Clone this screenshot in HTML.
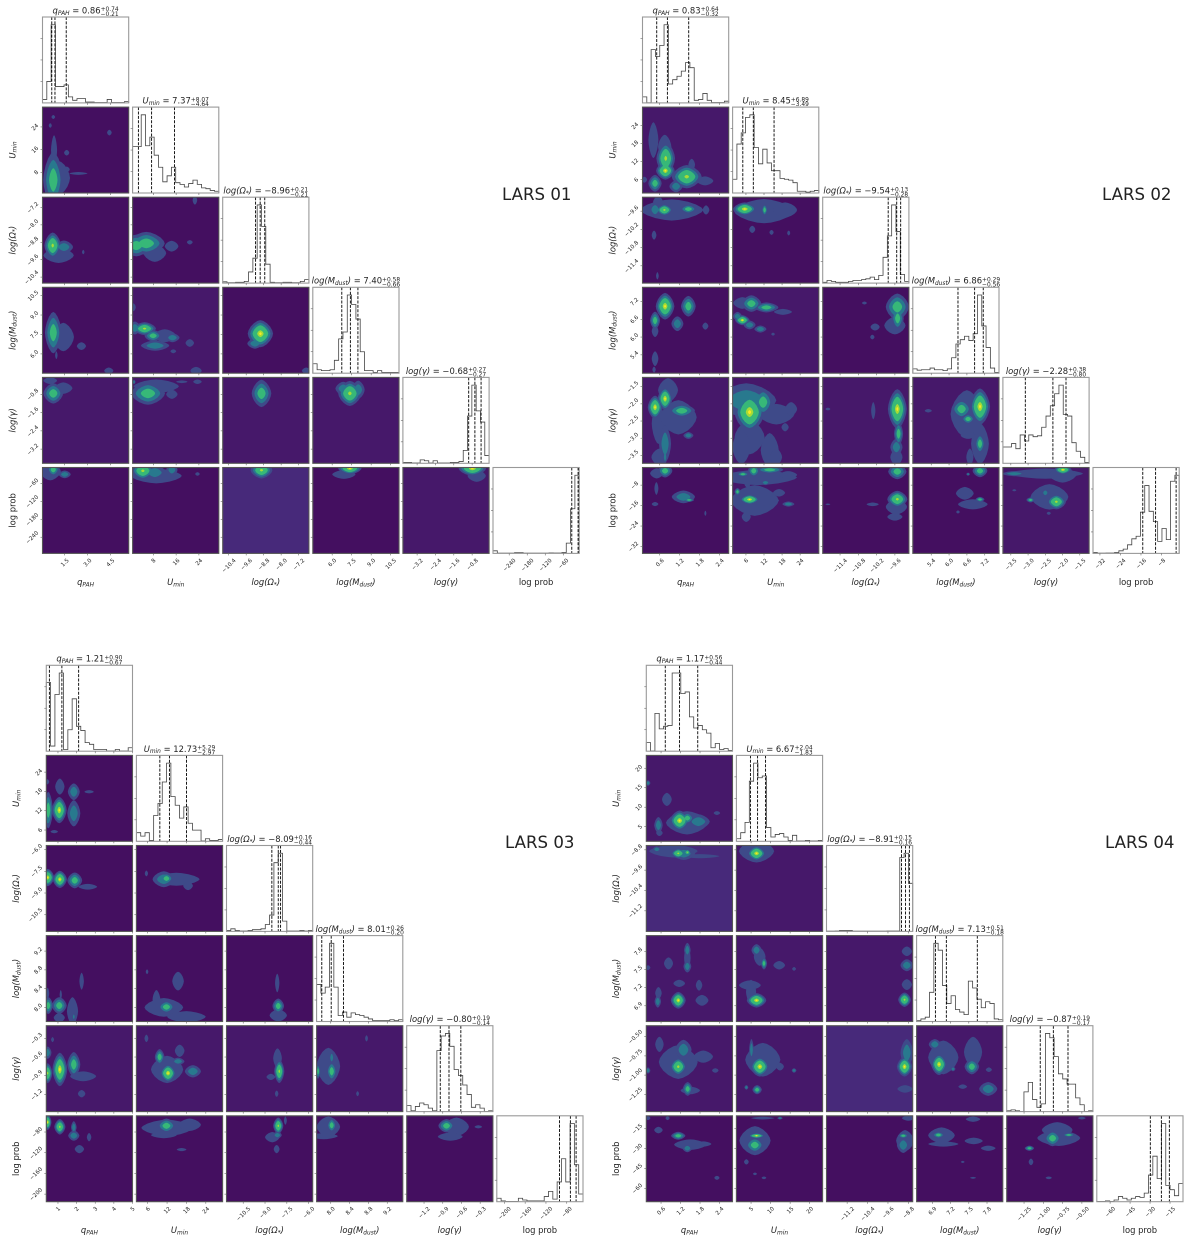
<!DOCTYPE html>
<html lang="en">
<head>
<meta charset="utf-8">
<title>LARS corner plots</title>
<style>
html,body{margin:0;padding:0;background:#fff;}
svg text{font-family:"DejaVu Sans","Liberation Sans",sans-serif;fill:#222;}
#figure{filter:blur(0.35px);}
</style>
</head>
<body>
<svg id="figure" xmlns="http://www.w3.org/2000/svg" width="1200" height="1245" viewBox="0 0 1200 1245" style="display:block"></svg>
<script>
// Parameter order: qPAH, Umin, log(Omega*), log(Mdust), log(gamma), log prob
// Contour blob format: [x, y, rx, ry, peakLevel], in data units of that panel
// Contour panel order (row,col): 1,0 2,0 2,1 3,0 3,1 3,2 4,0 4,1 4,2 4,3 5,0 5,1 5,2 5,3 5,4

const lars01Ranges = [[0.04,5.71],[0.69,31],[-10.675,-6.73],[4.51,11.14],[-3.82,-0.06],[-294,-7]];
const lars01Ticks = [["1.5","3.0","4.5"],["8","16","24"],["-10.4","-9.6","-8.8","-8.0","-7.2"],["6.0","7.5","9.0","10.5"],["-3.2","-2.4","-1.6","-0.8"],["-240","-180","-120","-60"]];
const lars01Median = [0.86,7.37,-8.96,7.40,-0.68,-10.7];
const lars01ErrUp = [0.74,8.07,0.21,0.58,0.27,3.4];
const lars01ErrDown = [0.21,4.64,0.21,0.66,0.27,21];
const lars01Hist = [
 [4,25,91,19,19,21,7,3,5,5,1,1,.5,.5,.5,4,.5,.5,.5,1.5],
 [54,54,91,55,65,44,30,13,20,30,12,10,7,11,15,10,6,5,3,2],
 [1.5,.5,.5,1,1,2,13,29,91,66,22,1,.5,.5,1,1,.5,.5,2,4],
 [11,4,3,3,4,15,40,48,91,80,63,25,3,3,1,3,1,1,1,1],
 [1,1,.5,.5,4,3,.5,3,.5,.5,.5,1,1,2,15,55,91,61,48,9],
 [3,.3,.3,.3,.3,.8,.8,.3,.3,.3,.3,.3,.3,.6,.5,.5,1,12,52,91]
];
const lars01Background = [0,0,0,0,1,0,1,1,1,1,0,0,2,0,1];
const lars01Contours = [
 [[.75,5.3,.66,9.9,3],[.8,15.8,.2,5.3,1],[1.63,14.9,.17,1,1],[1.63,9,.2,1,1],[2.4,7.6,.6,.5,1],[4.44,22,.15,1,1],[.75,27.5,.12,.7,1],[.55,24.5,.1,.8,1],[1.1,6,.75,6,1]],
 [[.71,-8.95,.55,.6,4],[1.45,-9.02,.6,.3,2],[1.1,-9.4,1,.35,1],[2.72,-9.25,.08,.1,1]],
 [[5.5,-8.85,6.5,.53,3],[2,-8.95,5,.5,3],[14.4,-8.98,2.4,.25,1],[20.8,-8.8,1,.1,1],[22.6,-6.87,.8,.2,1],[8.5,-9.3,4,.4,1]],
 [[.75,7.64,.55,1.6,3],[1.41,7.3,.7,1.1,1],[2.6,6.6,.3,.3,1],[.95,5.9,.08,.3,1],[4.4,4.7,.3,.25,1]],
 [[4.9,7.95,4,.5,4],[1.5,8,2,.5,2],[7.9,7.4,3,.45,3],[8.6,6.64,5,.4,2],[14.7,7.25,2.5,.35,2],[1,9.6,.8,.3,1],[20.8,6.84,1.5,.3,1],[15,6.2,1,.15,1],[23,4.7,2,.3,1],[12,7.4,4,.5,1]],
 [[-8.95,7.56,.58,1.05,5],[-9.2,6.8,.35,.4,2],[-6.85,4.7,.2,.25,1]],
 [[.75,-.76,.65,.45,3],[1.41,-.53,.6,.25,1],[.55,-.2,.45,.15,1]],
 [[6.1,-.76,6,.5,3],[1.2,-.26,.5,.1,2],[9,-.45,8,.3,1],[14.5,-.8,2,.2,1],[23.5,-.25,1.5,.1,1],[18,-.25,2,.06,1]],
 [[-8.9,-.76,.45,.6,3]],
 [[7.36,-.76,.9,.55,4],[6.85,-.55,.6,.3,2],[8,-.6,.5,.4,2]],
 [[.75,-14,.4,22,3],[1.5,-30,.4,13,2],[.55,-20,.7,30,1]],
 [[4.3,-18,4,30,4],[8.5,-24,4,25,2],[14.5,-15,2,20,2],[9,-35,9,25,1],[23.5,-28.7,.8,6,1]],
 [[-8.9,-16,.5,28,4]],
 [[7.36,-10,.9,20,5],[6.9,-30,.9,15,1]],
 [[-.79,-10,.6,25,5],[-.6,-35,.4,20,1]]
];

const lars02Ranges = [[0.083,2.67],[1.57,30.2],[-11.97,-9.14],[4.78,7.68],[-3.73,-1.23],[-34.7,-1.1]];
const lars02Ticks = [["0.6","1.2","1.8","2.4"],["6","12","18","24"],["-11.4","-10.8","-10.2","-9.6"],["5.4","6.0","6.6","7.2"],["-3.5","-3.0","-2.5","-2.0","-1.5"],["-32","-24","-16","-8"]];
const lars02Median = [0.83,8.45,-9.54,6.86,-2.28,-10.3];
const lars02ErrUp = [0.64,6.89,0.13,0.29,0.38,8];
const lars02ErrDown = [0.32,3.49,0.28,0.56,0.80,5];
const lars02Hist = [
 [7,.2,62,54,67,91,22,27,31,37,47,41,3,4,11,3,.5,.5,.5,2],
 [16,57,70,88,91,53,34,51,35,26,26,17,16,15,12,2,2,1,2,3],
 [1,3,2,1,1,1,2,3,3,4,5,7,4,9,30,55,91,60,10,2],
 [5,3.5,4,4,6,4,4,3,5,18,34,39,43,38,46,91,55,30,6,1],
 [19,19,23,17,33,26,33,31,32,42,55,67,81,91,57,55,24,14,7,1],
 [1,.3,.3,.5,.5,1,3,5,10,17,20,48,79,49,37,14,29,16,84,91]
];
const lars02Background = [1,0,0,0,1,0,1,1,1,1,0,1,0,0,1];
const lars02Contours = [
 [[.78,13.1,.28,5.5,4],[.77,9,.28,3,5],[.458,4.8,.2,2.8,3],[1.41,7,.45,3.9,4],[1.09,3.8,.2,2,2],[.41,19.2,.15,6,1],[1.96,5.6,.25,1.5,1],[.14,6,.08,1,1],[1.56,11,.1,2,1],[.75,17,.2,4,1]],
 [[.74,-9.56,.25,.2,4],[1.46,-9.53,.25,.15,3],[.96,-9.56,.95,.35,1],[.46,-9.55,.18,.25,2],[.55,-9.3,.15,.2,1],[1.99,-9.56,.1,.15,1],[.43,-10.39,.07,.15,1],[.53,-11.73,.04,.12,1]],
 [[5.6,-9.53,3.9,.22,5],[12.2,-9.56,1,.2,3],[12,-9.6,10,.4,1],[19,-9.56,4,.25,1],[8.1,-10.2,1,.12,1],[14.5,-10.3,.7,.08,1],[20.2,-10.32,.5,.08,1]],
 [[.76,7.04,.28,.45,5],[1.46,7.04,.22,.35,3],[.46,6.56,.15,.3,3],[1.13,6.45,.18,.25,2],[.46,6.2,.1,.2,1],[1.97,6.37,.09,.12,1],[.46,5.27,.1,.25,1],[.43,4.9,.05,.1,1]],
 [[7.8,7.13,3.3,.28,3],[4.8,7.15,3,.2,1],[12.8,7,4,.17,3],[4.8,6.57,2.4,.17,5],[3.2,6.7,1.5,.15,2],[7.2,6.41,2,.15,2],[10.8,6.27,2,.12,2],[18.3,6.85,3,.1,1],[15,6.1,.6,.05,1]],
 [[-9.52,7.02,.38,.45,3],[-9.51,6.63,.2,.4,3],[-9.6,6.39,.35,.3,1],[-10.25,6.34,.15,.12,1],[-10.34,6,.07,.08,1],[-10.6,7.15,.08,.05,1]],
 [[.76,-1.85,.22,.34,5],[.46,-2.1,.22,.34,5],[.56,-2.57,.2,.6,1],[1.26,-2.2,.4,.2,3],[1.16,-2.39,.55,.5,1],[.76,-3.16,.18,.55,2],[.6,-3.55,.25,.25,1],[1.46,-2.92,.15,.1,2],[.76,-3.55,.06,.2,2],[.85,-1.6,.3,.35,1]],
 [[7.2,-2.24,5,.58,5],[11.7,-1.95,3.3,.4,3],[6.1,-1.9,10,.5,2],[16.1,-2.3,6,.3,1],[21,-2.15,2,.2,1],[19,-2.68,1.2,.12,1],[7.2,-2.97,5,.5,1],[4.5,-3.26,3,.5,1],[13.9,-3.35,3,.5,1],[16,-3.55,2,.25,1]],
 [[-9.52,-2.15,.31,.58,5],[-9.48,-2.87,.15,.35,3],[-9.55,-3.26,.2,.25,2],[-9.55,-3.55,.2,.25,1],[-10.31,-2.2,.07,.25,1],[-11.8,-2.15,.08,.04,1]],
 [[7.04,-2.08,.34,.53,5],[6.42,-2.15,.34,.29,3],[6.64,-2.44,.22,.15,3],[6.6,-2.3,.55,.7,1],[7.04,-3.16,.17,.3,3],[7.04,-3.16,.3,.6,1],[6.7,-3.55,.12,.25,1],[6.64,-2.92,.25,.1,1],[5.3,-2.2,.12,.05,1]],
 [[.76,-2.4,.22,2.6,3],[.51,-3.4,.2,2,1],[.5,-9.3,.06,2.5,1],[1.31,-12.6,.35,2.5,2],[1.48,-13.8,.15,.8,3],[.46,-15.4,.1,.8,1],[1.97,-19,.03,1,1]],
 [[7.2,-13.6,3.3,2,5],[8.9,-14,8,6,1],[5,-3.7,2,1,3],[8.6,-2.4,2,2.5,3],[13.9,-2,4.5,1.5,3],[10,-5,13,3,1],[20,-4,3,1.5,1],[3.2,-10.6,1,1.5,3],[12.5,-7,1.5,1,2],[6.5,-7.5,1,1.5,1],[20.1,-15.4,2,1,2],[17,-11,2,1.5,1],[6.1,-20.4,1.5,2,1],[12,-14,5,2,1]],
 [[-9.52,-2.7,.3,3,3],[-9.52,-13.5,.33,3.3,4],[-9.55,-16.5,.35,3,1],[-9.6,-20.4,.25,1.5,1],[-10.33,-15.5,.2,.7,1],[-11.8,-15.5,.08,.3,1]],
 [[7.04,-2.4,.25,2.5,3],[6.64,-3.7,.06,.6,2],[7.04,-13.6,.15,1,3],[6.53,-11.2,.3,2.5,1],[6.8,-15.5,.5,2,1],[6.3,-18.5,.06,.6,1]],
 [[-2.18,-14.5,.28,3,4],[-1.99,-2,.25,1.8,5],[-2.38,-12.6,.55,5,1],[-2.93,-13.8,.12,1,3],[-2.5,-11,.1,1.5,2],[-2.5,-3.5,1.1,2,1],[-3.4,-3.5,.35,1,2],[-2,-4,.4,3,1],[-3.4,-10,.06,.4,1],[-2.4,-19,.06,.6,1]]
];

const lars03Ranges = [[0.374,5.0],[2.5,29.2],[-11.65,-5.72],[7.70,9.53],[-1.478,-0.096],[-214.6,-48.7]];
const lars03Ticks = [["1","2","3","4","5"],["6","12","18","24"],["-10.5","-9.0","-7.5","-6.0"],["8.0","8.4","8.8","9.2"],["-1.2","-0.9","-0.6","-0.3"],["-200","-160","-120","-80"]];
const lars03Median = [1.21,12.73,-8.09,8.01,-0.80,-73];
const lars03ErrUp = [0.90,5.29,0.16,0.26,0.19,11];
const lars03ErrDown = [0.67,2.97,0.44,0.20,0.14,21];
const lars03Hist = [
 [80,6,66,91,2,25,61,29,24,10,8,2,2,2,.3,.3,2,.3,.3,4],
 [10,6,10,1,30,44,69,91,52,42,27,40,21,13,13,.5,3,1,1,2],
 [1,3,1,.5,.5,1,2,2,3,8,19,80,91,12,.5,.5,.5,1,.5,1],
 [43,33,40,91,40,7,11,5,10,8,7,5,3,1,1,1,1,2,1,2],
 [7,1,6,10,8,4,1,71,88,91,76,49,42,31,20,5,8,4,.3,1],
 [4,1,.3,.3,.3,4,2,1,1,1,1,6,12,3,23,50,23,91,43,9]
];
const lars03Background = [0,0,0,0,0,0,1,1,1,1,0,0,0,0,0];
const lars03Contours = [
 [[1.07,12.2,.4,4.1,5],[.48,12.2,.25,5.7,3],[1.85,17.9,.32,2.6,2],[1.85,11.2,.35,4.1,2],[1.1,19.5,.25,2.5,1],[.43,21,.1,.8,1],[2.67,17.9,.25,.5,1],[.8,5.5,.2,.5,1],[.45,8.6,.08,.8,2]],
 [[.45,-7.93,.35,.6,5],[1.1,-8.06,.38,.6,5],[1.9,-8.13,.4,.55,3],[2.6,-8.57,.5,.2,1]],
 [[11.8,-8,2.1,.4,3],[14.9,-8.05,7.2,.45,1],[18.5,-8.5,1.5,.3,1],[5.6,-7.65,.5,.2,1],[11,-8.05,3.5,.55,2]],
 [[.48,8.04,.25,.18,3],[1.07,8.04,.4,.18,3],[1.07,7.78,.3,.1,1],[1.78,7.92,.3,.3,1],[1.85,7.8,.08,.08,2],[2.27,8.56,.12,.18,1],[.45,8.3,.08,.12,1],[1.15,8.27,.06,.1,1]],
 [[11.8,8.01,2.6,.14,3],[8.7,8.17,1.2,.2,1],[11,8,6,.2,1],[18,7.8,6,.12,1],[15.4,8.56,1.8,.2,1],[5.8,8.76,.4,.05,1]],
 [[-8.09,8.03,.4,.16,3],[-8.09,7.83,.6,.13,1],[-8.16,8.52,.15,.2,1]],
 [[1.1,-.8,.4,.27,5],[.45,-.86,.25,.16,4],[.45,-.53,.2,.1,2],[1.85,-.72,.35,.2,3],[2.35,-.91,.7,.08,1],[2.27,-1.19,.2,.06,1],[.71,-.32,.08,.04,1]],
 [[12.3,-.86,2.5,.15,5],[9.7,-.6,1.5,.13,3],[15.4,-.67,2,.06,2],[15.9,-.5,1.5,.1,1],[20,-.83,2.5,.1,2],[12,-.8,5,.22,1],[5.6,-.3,.6,.06,1]],
 [[-8.02,-.83,.35,.19,4],[-8.14,-.62,.3,.16,1],[-8.2,-1.19,.12,.05,1],[-8.6,-.92,.3,.05,1]],
 [[8.02,-.83,.11,.16,3],[8.02,-.61,.05,.1,2],[7.73,-.83,.05,.12,3],[7.95,-.75,.25,.3,1],[8.76,-.3,.03,.05,1],[8.57,-1.19,.03,.04,1]],
 [[.45,-61,.2,15,5],[1.1,-70,.3,15,4],[1.85,-71,.15,12,2],[1.85,-87,.3,10,2],[2.67,-90,.12,8,1],[2.15,-113,.25,8,1]],
 [[11.8,-68,2.9,14,3],[12,-72,8,16,1],[11,-86,4,6,1],[19,-66,3.5,12,1],[5.8,-70,.6,4,1],[16.5,-114,1.5,3,1]],
 [[-8.09,-68,.35,16,4],[-8.15,-86,.3,7,2],[-8.5,-90,.5,10,1],[-8.2,-113,.2,8,1],[-7.6,-58,.1,8,1]],
 [[8.02,-67,.1,14,3],[7.95,-70,.25,20,1],[7.85,-88,.3,6,1]],
 [[-.84,-68,.13,13,3],[-.68,-70,.2,18,1],[-.78,-89,.2,8,1],[-.33,-70,.06,3,1]]
];

const lars04Ranges = [[0.146,2.80],[1.25,23.3],[-12.01,-8.63],[6.64,8.06],[-1.475,-0.357],[-70,-5.25]];
const lars04Ticks = [["0.6","1.2","1.8","2.4"],["5","10","15","20"],["-11.2","-10.4","-9.6","-8.8"],["6.9","7.2","7.5","7.8"],["-1.25","-1.00","-0.75","-0.50"],["-60","-45","-30","-15"]];
const lars04Median = [1.17,6.67,-8.91,7.13,-0.87,-21.5];
const lars04ErrUp = [0.56,2.04,0.15,0.51,0.19,6];
const lars04ErrDown = [0.44,1.83,0.16,0.18,0.17,8.3];
const lars04Hist = [
 [10,.3,44,26,29,30,91,91,67,69,40,27,30,25,21,4,9,2,3,1],
 [3,10,22,70,91,74,76,16,5,8,9,5,1,7,.5,.5,1,.5,.5,1],
 [.3,.3,.5,1,1,1,.3,.3,.3,.3,.3,.3,.3,.3,.5,.5,.5,86,91,56],
 [1,3,5,34,91,83,42,21,30,14,11,8,47,39,26,16,23,21,3,2],
 [1,2,1,.3,23,34,14,5,9,91,86,64,44,38,32,32,16,8,.3,1],
 [.3,.3,1,.3,2,6,4,2,4,6,5,10,31,53,27,91,19,14,7,21]
];
const lars04Background = [1,2,1,1,1,1,1,1,2,1,0,0,0,0,0];
const lars04Contours = [
 [[1.17,6.55,.3,2.6,5],[1.41,7.2,.2,1.5,3],[1.75,6.3,.35,1.9,2],[.78,12,.15,1.7,1],[.52,5.4,.13,2.1,2],[.55,3.4,.1,.8,1],[2.32,8.5,.1,.5,1],[.2,16.2,.07,.7,2],[1.4,6,.65,3,1]],
 [[1.13,-8.94,.23,.2,4],[1.41,-8.9,.1,.12,4],[.98,-8.85,.75,.25,1],[1.8,-9.05,.6,.08,1],[.47,-8.78,.13,.12,2],[1.3,-8.95,.35,.25,2]],
 [[6.4,-8.94,2.4,.3,5],[6.4,-8.85,4.5,.45,1]],
 [[1.13,6.99,.23,.14,5],[1.41,7.55,.12,.1,2],[1.41,7.82,.1,.12,2],[1.41,7.69,.1,.22,1],[.83,7.6,.14,.1,1],[.52,7.11,.1,.1,1],[.5,6.97,.1,.1,2],[1.16,7.27,.18,.06,1],[1.86,6.99,.2,.09,1],[1.77,7.24,.1,.09,1],[.2,7.53,.07,.04,1]],
 [[6.4,6.99,2.5,.12,5],[4.7,7.24,2.8,.08,1],[5,7.13,1.3,.2,1],[8.3,7.6,.8,.1,3],[6.4,7.82,1.3,.1,2],[7.2,7.71,1.5,.15,1],[12.2,7.57,1.5,.07,1],[16,7.51,.5,.03,1]],
 [[-8.95,7,.25,.12,4],[-8.86,7.25,.2,.09,1],[-8.86,7.57,.25,.1,2],[-8.86,7.8,.2,.08,1]],
 [[1.13,-.89,.26,.12,4],[1.13,-.83,.6,.22,1],[1.42,-1.18,.15,.09,3],[1.5,-1.2,.3,.05,1],[.55,-.6,.13,.1,1],[1.29,-.67,.25,.13,2],[1.9,-.76,.3,.08,1],[2.27,-.94,.1,.03,1],[.2,-.94,.07,.04,2]],
 [[7.24,-.89,2.4,.13,5],[5.1,-.67,.6,.14,2],[8,-.8,4.5,.22,1],[6.55,-1.19,1.2,.06,3],[3.8,-1.16,.5,.03,2],[12.4,-.89,1,.05,1],[16,-.94,.6,.03,2]],
 [[-8.95,-.89,.3,.13,5],[-8.86,-.71,.25,.18,2],[-8.93,-1.18,.3,.05,1]],
 [[7.01,-.86,.13,.14,5],[6.94,-.6,.1,.07,2],[7.08,-.77,.25,.22,1],[7.55,-.89,.12,.1,3],[7.57,-.7,.15,.2,1],[7.82,-1.18,.15,.09,2],[7.4,-1.15,.07,.03,1],[7.83,-.93,.05,.03,1],[7.24,-.92,.04,.03,2]],
 [[1.13,-20.3,.22,3,3],[.52,-16,.13,2.5,1],[1.41,-29.7,.15,3,2],[1.5,-27,.5,4,1],[1.9,-26.5,.25,2,1],[.8,-7,.06,1.5,1],[.2,-7,.07,1.5,1],[2.32,-52,.08,1.5,1]],
 [[6.4,-20.3,2.1,2,5],[5.95,-27.3,2.4,6,3],[6,-24,4,11,1],[3.8,-40,.6,2,1],[6,-49,.5,1,1],[8.3,-52,.6,1,1],[8,-7,3,1,1],[12.4,-7,.7,1,2]],
 [[-9,-20.3,.2,2,3],[-9,-27.3,.25,6,2],[-8.8,-7,.25,2,1],[-8.93,-24,.35,8,1]],
 [[7,-19.7,.1,2.5,3],[7.05,-20,.22,6,1],[7.08,-26.5,.25,2,1],[7.58,-24.2,.15,2.5,1],[7.57,-7.8,.12,2,1],[7.82,-29.7,.12,2,1],[7.4,-40,.03,.8,1],[7.57,-52,.05,.7,1]],
 [[-.88,-22.2,.11,6,3],[-.67,-19.7,.08,1.5,3],[-.82,-16,.2,6,1],[-.8,-22,.28,6,1],[-1.18,-29.7,.06,2,3],[-1.16,-40,.03,2.5,1],[-.93,-52,.04,1,1],[-.5,-7,.05,1,1]]
];

const plotNames = ["LARS 01","LARS 02","LARS 03","LARS 04"];
const plotOriginX = [42.5,642.5,46.3,646.3];
const plotOriginY = [17,17,665.3,665.3];
const plotLabelX = [502,1102,505,1105];
const plotLabelY = [200,200,848,848];
const allRanges = [lars01Ranges,lars02Ranges,lars03Ranges,lars04Ranges];
const allTicks = [lars01Ticks,lars02Ticks,lars03Ticks,lars04Ticks];
const allMedians = [lars01Median,lars02Median,lars03Median,lars04Median];
const allErrUp = [lars01ErrUp,lars02ErrUp,lars03ErrUp,lars04ErrUp];
const allErrDown = [lars01ErrDown,lars02ErrDown,lars03ErrDown,lars04ErrDown];
const allHist = [lars01Hist,lars02Hist,lars03Hist,lars04Hist];
const allBackground = [lars01Background,lars02Background,lars03Background,lars04Background];
const allContours = [lars01Contours,lars02Contours,lars03Contours,lars04Contours];
const panelOrder = [[1,0],[2,0],[2,1],[3,0],[3,1],[3,2],[4,0],[4,1],[4,2],[4,3],[5,0],[5,1],[5,2],[5,3],[5,4]];
const histYTicks = [25,50,75];

const PANEL_W = 86.2, PANEL_H = 85.9, PITCH = 90.1;
const BG_COLORS = ["#440f60","#46186a","#47297a"];
const LEVEL_COLORS = ["#3e4a89","#28798e","#37b878","#a5db36","#fde725"];
const LEVEL_FRACTIONS = [[1],[1,.6],[1,.72,.42],[1,.78,.58,.15],[1,.8,.62,.25,.1]];
const NS = "http://www.w3.org/2000/svg";
const root = document.getElementById("figure");

// Label fragments: [text, style], style i=italic, s=italic subscript, r=regular
const paramParts = [
 [["q","i"],["PAH","s"]],
 [["U","i"],["min","s"]],
 [["log(Ω","i"],["*","s"],[")","i"]],
 [["log(M","i"],["dust","s"],[")","i"]],
 [["log(γ)","i"]],
 [["log prob","r"]]
];

function make(parent, tag, attrs) {
  const el = document.createElementNS(NS, tag);
  for (const k in attrs) el.setAttribute(k, attrs[k]);
  parent.appendChild(el);
  return el;
}
function minus(s) { return String(s).replace("-", "−"); }
function xAxis(p, col, v) {
  const r = allRanges[p][col];
  return plotOriginX[p] + col * PITCH + (v - r[0]) / (r[1] - r[0]) * PANEL_W;
}
function yAxis(p, row, v) {
  const r = allRanges[p][row];
  return plotOriginY[p] + row * PITCH + PANEL_H - (v - r[0]) / (r[1] - r[0]) * PANEL_H;
}
function blobPath(cx, cy, rx, ry) {
  // Rounded-diamond outline: the contours in the figure come from a coarse grid
  let d = "";
  for (let i = 0; i < 20; i++) {
    const a = i / 20 * 2 * Math.PI;
    const c = Math.cos(a), s = Math.sin(a);
    const px = cx + rx * Math.sign(c) * Math.pow(Math.abs(c), 1.25);
    const py = cy + ry * Math.sign(s) * Math.pow(Math.abs(s), 1.25);
    d += (i ? "L" : "M") + px.toFixed(2) + " " + py.toFixed(2);
  }
  return d + "Z";
}
function appendParts(textEl, parts, size) {
  let shifted = false;
  parts.forEach(function (part) {
    const t = document.createElementNS(NS, "tspan");
    t.textContent = part[0];
    if (part[1] !== "r") t.setAttribute("font-style", "oblique");
    if (part[1] === "s") {
      t.setAttribute("font-size", size * 0.7);
      t.setAttribute("dy", size * 0.17);
      shifted = true;
    } else if (shifted) {
      t.setAttribute("dy", -size * 0.17);
      shifted = false;
    }
    textEl.appendChild(t);
  });
}
function drawFrame(g, x, y, color) {
  const f = make(g, "rect", {x:x, y:y, width:PANEL_W, height:PANEL_H, fill:"none", stroke:color, "stroke-width":1.1});
  
  
}
function drawTicks(g, p, row, col, x, y) {
  allTicks[p][col].forEach(function (t) {
    const tx = xAxis(p, col, Number(t));
    const m = make(g, "line", {x1:tx, x2:tx, y1:y + PANEL_H, y2:y + PANEL_H + 2, stroke:"#666", "stroke-width":0.6});
    
    
  });
  if (row === col) {
    histYTicks.forEach(function (h) {
      const ty = y + PANEL_H - h / 100 * PANEL_H;
      const m = make(g, "line", {x1:x - 2, x2:x, y1:ty, y2:ty, stroke:"#666", "stroke-width":0.6});
      
      
    });
  } else {
    allTicks[p][row].forEach(function (t) {
      const ty = yAxis(p, row, Number(t));
      const m = make(g, "line", {x1:x - 2, x2:x, y1:ty, y2:ty, stroke:"#666", "stroke-width":0.6});
      
      
    });
  }
}
function drawHistogram(p, col) {
  const g = make(root, "g", {});
  
  
  const x = plotOriginX[p] + col * PITCH, y = plotOriginY[p] + col * PITCH;
  const bins = allHist[p][col];
  const r = allRanges[p][col];
  const bw = (r[1] - r[0]) / bins.length;
  const base = y + PANEL_H;
  let d = "M" + xAxis(p, col, r[0]).toFixed(2) + " " + base.toFixed(2);
  bins.forEach(function (h, i) {
    const top = (base - h / 100 * PANEL_H).toFixed(2);
    d += "L" + xAxis(p, col, r[0] + i * bw).toFixed(2) + " " + top;
    d += "L" + xAxis(p, col, r[0] + (i + 1) * bw).toFixed(2) + " " + top;
  });
  d += "L" + xAxis(p, col, r[1]).toFixed(2) + " " + base.toFixed(2);
  const line = make(g, "path", {d:d, fill:"none", stroke:"#444", "stroke-width":0.8});
  
  
  const med = allMedians[p][col], up = allErrUp[p][col], dn = allErrDown[p][col];
  [med - dn, med, med + up].forEach(function (q) {
    const qx = Math.min(xAxis(p, col, q), x + PANEL_W - 0.3);
    const ql = make(g, "line", {x1:qx, x2:qx, y1:y, y2:base, stroke:"#000", "stroke-width":0.9, "stroke-dasharray":"3 1.4"});
    
    
  });
  drawFrame(g, x, y, "#999");
  drawTicks(g, p, col, col, x, y);
  if (col < 5) drawTitle(g, p, col, x, y);
}
function drawTitle(g, p, col, x, y) {
  const cx = x + PANEL_W / 2;
  const main = make(g, "text", {x:cx, y:y - 3.6, "font-size":8.4});
  
  
  appendParts(main, paramParts[col], 8.4);
  const rest = document.createElementNS(NS, "tspan");
  rest.textContent = " = " + minus(allMedians[p][col].toFixed(2));
  main.appendChild(rest);
  if (paramParts[col][paramParts[col].length - 1][1] === "s") rest.setAttribute("dy", -8.4 * 0.17);
  const sup = make(g, "text", {x:cx, y:y - 5.8, "font-size":5.9});
  sup.textContent = "+" + allErrUp[p][col].toFixed(2);
  
  
  const sub = make(g, "text", {x:cx, y:y - 0.9, "font-size":5.9});
  sub.textContent = "−" + allErrDown[p][col].toFixed(2);
  
  
  const mw = main.getComputedTextLength();
  const sw = Math.max(sup.getComputedTextLength(), sub.getComputedTextLength());
  const left = cx - (mw + sw) / 2;
  main.setAttribute("x", left);
  sup.setAttribute("x", left + mw);
  sub.setAttribute("x", left + mw);
}
function drawContourPanel(p, idx) {
  const row = panelOrder[idx][0], col = panelOrder[idx][1];
  const g = make(root, "g", {});
  
  
  const x = plotOriginX[p] + col * PITCH, y = plotOriginY[p] + row * PITCH;
  const inner = make(g, "svg", {x:x, y:y, width:PANEL_W, height:PANEL_H});
  
  
  const bg = make(inner, "rect", {x:0, y:0, width:PANEL_W, height:PANEL_H, fill:BG_COLORS[allBackground[p][idx]]});
  
  
  const blobs = allContours[p][idx];
  const rx0 = allRanges[p][col], ry0 = allRanges[p][row];
  const sx = PANEL_W / (rx0[1] - rx0[0]), sy = PANEL_H / (ry0[1] - ry0[0]);
  for (let level = 1; level <= 5; level++) {
    blobs.forEach(function (b) {
      if (b[4] < level) return;
      const scale = LEVEL_FRACTIONS[b[4] - 1][level - 1];
      const e = make(inner, "path", {
        d: blobPath(xAxis(p, col, b[0]) - x, yAxis(p, row, b[1]) - y, Math.max(b[2] * sx * scale, 0.5), Math.max(b[3] * sy * scale, 0.5)),
        fill: LEVEL_COLORS[level - 1]
      });
      
      
    });
  }
  drawFrame(g, x, y, "#555");
  drawTicks(g, p, row, col, x, y);
}
function drawAxisLabels(p) {
  const x0 = plotOriginX[p], y0 = plotOriginY[p];
  const bottom = y0 + 5 * PITCH + PANEL_H;
  for (let col = 0; col < 6; col++) {
    const cx = x0 + col * PITCH + PANEL_W / 2;
    const xl = make(root, "text", {x:cx, y:bottom + 31.5, "font-size":8.4, "text-anchor":"middle"});
    
    
    appendParts(xl, paramParts[col], 8.4);
    allTicks[p][col].forEach(function (t) {
      const tx = xAxis(p, col, Number(t));
      const lab = make(root, "text", {"font-size":5.6, "text-anchor":"middle", fill:"#333"});
      lab.textContent = minus(t);
      
      
      const w = lab.getComputedTextLength();
      const ly = bottom + 4.4 + (w + 4.2) * 0.354;
      lab.setAttribute("x", tx);
      lab.setAttribute("y", ly + 2);
      lab.setAttribute("transform", "rotate(-45 " + tx + " " + ly + ")");
    });
  }
  for (let row = 1; row < 6; row++) {
    const cy = y0 + row * PITCH + PANEL_H / 2;
    const lx = x0 - 27.2;
    const yl = make(root, "text", {x:lx, y:cy, "font-size":8.4, "text-anchor":"middle", transform:"rotate(-90 " + lx + " " + cy + ")"});
    
    
    appendParts(yl, paramParts[row], 8.4);
    allTicks[p][row].forEach(function (t) {
      const ty = yAxis(p, row, Number(t));
      const lab = make(root, "text", {"font-size":5.6, "text-anchor":"middle", fill:"#333"});
      lab.textContent = minus(t);
      
      
      const w = lab.getComputedTextLength();
      const cxl = x0 - 3.6 - (w + 4.2) * 0.354;
      lab.setAttribute("x", cxl);
      lab.setAttribute("y", ty + 2);
      lab.setAttribute("transform", "rotate(-45 " + cxl + " " + ty + ")");
    });
  }
}
plotNames.forEach(function (name, p) {
  for (let col = 0; col < 6; col++) drawHistogram(p, col);
  panelOrder.forEach(function (_, idx) { drawContourPanel(p, idx); });
  drawAxisLabels(p);
  const label = make(root, "text", {x:plotLabelX[p], y:plotLabelY[p], "font-size":16.6});
  label.textContent = name;
  
  
});
</script>
</body>
</html>
